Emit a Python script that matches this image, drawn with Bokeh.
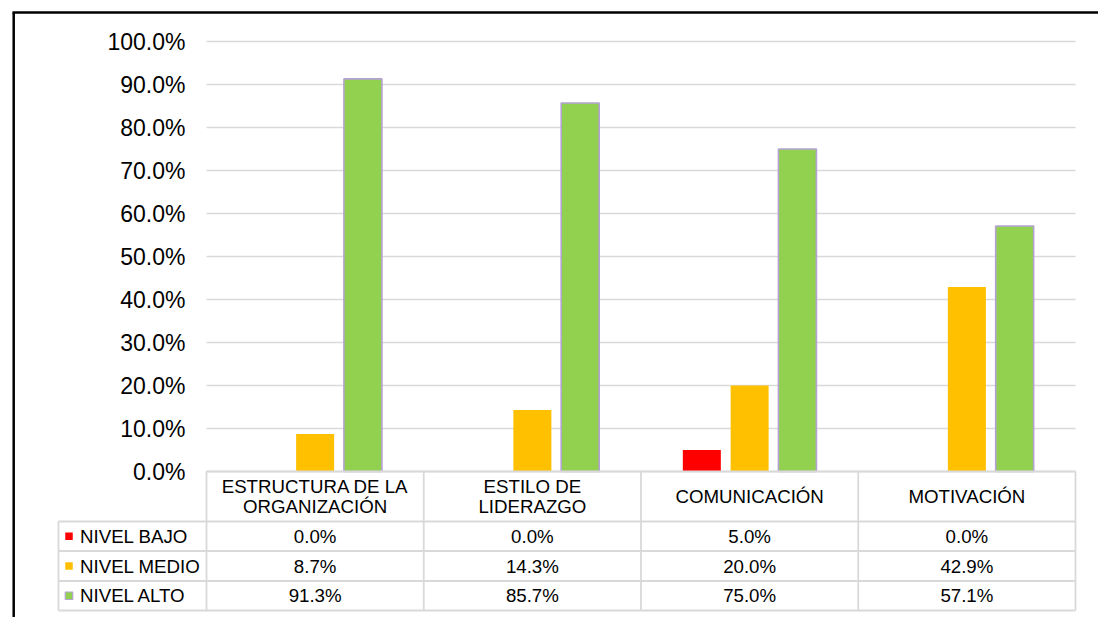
from bokeh.plotting import figure
from bokeh.models import Range1d, ColumnDataSource
from bokeh.core.properties import value
from bokeh.embed import file_html
from bokeh.resources import INLINE

# ---------------- data ----------------
categories = ["ESTRUCTURA DE LA\nORGANIZACIÓN", "ESTILO DE\nLIDERAZGO", "COMUNICACIÓN", "MOTIVACIÓN"]
series_names = ["NIVEL BAJO", "NIVEL MEDIO", "NIVEL ALTO"]
nivel_bajo = [0.0, 0.0, 5.0, 0.0]
nivel_medio = [8.7, 14.3, 20.0, 42.9]
nivel_alto = [91.3, 85.7, 75.0, 57.1]
y_ticks = [0, 10, 20, 30, 40, 50, 60, 70, 80, 90, 100]

series_values = [nivel_bajo, nivel_medio, nivel_alto]
colors = ["#FF0000", "#FFC000", "#92D050"]
outlines = [None, None, "#B4A2D2"]

# ---------------- layout (page pixels) ----------------
W, H = 1098, 617
OFF = 0
X0, CAT_W = 206.0, 217.25      # left of plot area, width of one category
Y0, PCT_H = 471.0, 4.3         # zero line, pixels per percent


def dx(px):
    return (px - X0) / CAT_W


def dy(py):
    return (Y0 - py) / PCT_H


FONT = "Liberation Sans"
TXT = "#000000"
GRID = "#D9D9D9"

p = figure(width=W, height=H, output_backend="svg", toolbar_location=None,
           x_range=Range1d(dx(OFF), dx(OFF + W)),
           y_range=Range1d(dy(OFF + H), dy(OFF)),
           x_axis_location=None, y_axis_location=None,
           min_border=0, outline_line_color=None,
           background_fill_color="white", border_fill_color="white")
p.xgrid.visible = False
p.ygrid.visible = False

n = len(categories)

# gridlines from ticks
p.segment(x0=[0] * len(y_ticks), x1=[n] * len(y_ticks), y0=y_ticks, y1=y_ticks,
          line_color=GRID, line_width=1.6)

# tick labels
p.text(x=[dx(185)] * len(y_ticks), y=[t - 0.15 for t in y_ticks],
       text=[f"{t:.1f}%" for t in y_ticks],
       text_align="right", text_baseline="middle",
       text_font=value(FONT), text_font_size=value("23px"), text_color=TXT)

# bars
bar_w = 38.0 / CAT_W
step = 47.8 / CAT_W
for k, (vals, col, oc) in enumerate(zip(series_values, colors, outlines)):
    xs = [i + 0.5 + (k - 1) * step for i in range(n)]
    src = ColumnDataSource(dict(x=xs, top=vals))
    p.vbar(x="x", top="top", bottom=0, width=bar_w, source=src,
           fill_color=col, line_color=oc, line_width=1.6 if oc else 0)

# ---------------- data table ----------------
hdr_bot = dy(521)
row_lines = [dy(521), dy(550.5), dy(580.5), dy(610)]
leg_left = dx(58)
tbl_bottom = row_lines[-1]

# horizontal lines
p.segment(x0=[0], x1=[n], y0=[0], y1=[0], line_color=GRID, line_width=1.8)
p.segment(x0=[leg_left] * len(row_lines), x1=[n] * len(row_lines),
          y0=row_lines, y1=row_lines, line_color=GRID, line_width=1.8)
# vertical lines
p.segment(x0=list(range(n + 1)), x1=list(range(n + 1)),
          y0=[0] * (n + 1), y1=[tbl_bottom] * (n + 1), line_color=GRID, line_width=1.8)
p.segment(x0=[leg_left], x1=[leg_left], y0=[hdr_bot], y1=[tbl_bottom],
          line_color=GRID, line_width=1.8)

# header texts
hx, hy, ht = [], [], []
hdr_mid = dy(496)
line_gap = 20.0 / PCT_H
for i, c in enumerate(categories):
    lines = c.split("\n")
    m = len(lines)
    for j, ln in enumerate(lines):
        hx.append(i + 0.5)
        hy.append(hdr_mid + ((m - 1) / 2 - j) * line_gap)
        ht.append(ln)
p.text(x=hx, y=hy, text=ht, text_align="center", text_baseline="middle",
       text_font=value(FONT), text_font_size=value("18.7px"), text_color=TXT)

# rows
for r, (name, vals, col, oc) in enumerate(zip(series_names, series_values, colors, outlines)):
    yc = (row_lines[r] + row_lines[r + 1]) / 2
    p.text(x=[i + 0.5 for i in range(n)], y=[yc] * n, text=[f"{v:.1f}%" for v in vals],
           text_align="center", text_baseline="middle",
           text_font=value(FONT), text_font_size=value("18.7px"), text_color=TXT)
    p.text(x=[dx(79.5)], y=[yc], text=[name], text_align="left", text_baseline="middle",
           text_font=value(FONT), text_font_size=value("18.7px"), text_color=TXT)
    p.rect(x=[dx(68.5)], y=[yc], width=7.5, height=7.5, width_units="screen", height_units="screen",
           fill_color=col, line_color=oc, line_width=1.2 if oc else 0)

# chart border (top and left edges of the cropped chart frame)
bx, by = dx(13.2), dy(12)
p.segment(x0=[bx - 1.2 / CAT_W, bx], x1=[dx(W + 5), bx],
          y0=[by, by], y1=[by, dy(H + 5)],
          line_color="black", line_width=2.5)

open("out.html", "w").write(file_html(p, INLINE))
